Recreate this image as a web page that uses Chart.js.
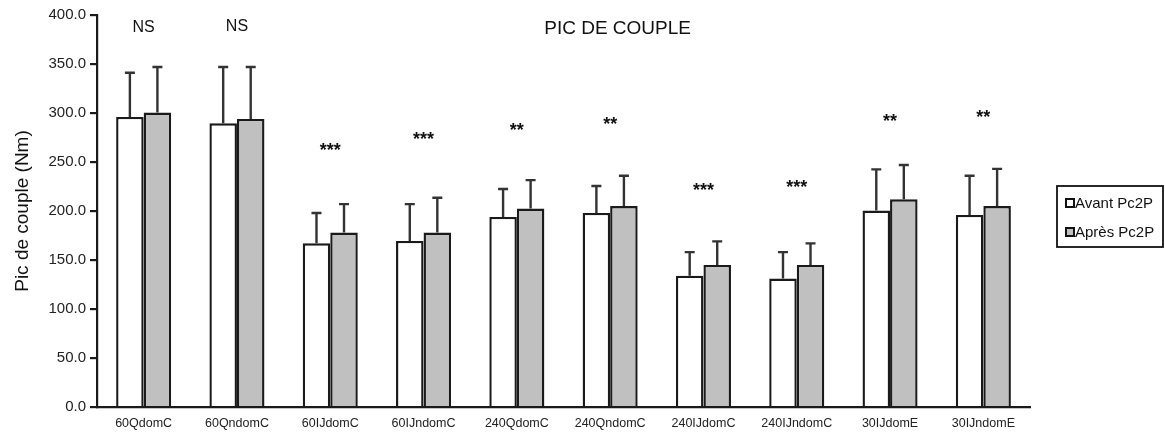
<!DOCTYPE html>
<html>
<head>
<meta charset="utf-8">
<script src="https://cdn.jsdelivr.net/npm/chart.js@4"></script>
<style>
  body { margin: 0; background: #fff; }
  #wrap { width: 1165px; height: 432px; }
</style>
</head>
<body>
<div id="wrap"><canvas id="myChart"></canvas></div>
<script>
const categories = ['60QdomC', '60QndomC', '60IJdomC', '60IJndomC', '240QdomC', '240QndomC', '240IJdomC', '240IJndomC', '30IJdomE', '30IJndomE'];
const avant = [296, 289.5, 167, 169.5, 194, 198, 134, 131, 200.5, 196];
const avantSd = [45, 57.5, 31, 37.5, 28.5, 27.5, 24, 27, 42, 40];
const apres = [300.5, 294, 178, 178, 202.5, 205, 145, 145, 212, 205];
const apresSd = [46.5, 53, 29, 35.5, 29, 31, 24, 22, 35, 38];
// significance marks and the height (Nm) they sit at
const signif = ['NS', 'NS', '***', '***', '**', '**', '***', '***', '**', '**'];
const signifAt = [387, 388, 265, 276, 286, 292, 224, 228, 295, 299];
const yTicks = [0, 50, 100, 150, 200, 250, 300, 350, 400];

const sdList = [avantSd, apresSd];
const FONT = '"Liberation Sans", Arial';

// up-only error bars with a cap
const errorBars = {
  id: 'errorBars',
  afterDatasetsDraw(chart) {
    const ctx = chart.ctx;
    const y = chart.scales.y;
    ctx.save();
    ctx.strokeStyle = '#333';
    ctx.lineWidth = 2.4;
    chart.data.datasets.forEach((ds, i) => {
      const meta = chart.getDatasetMeta(i);
      meta.data.forEach((bar, j) => {
        const top = y.getPixelForValue(ds.data[j] + sdList[i][j]);
        ctx.beginPath();
        ctx.moveTo(bar.x, bar.y);
        ctx.lineTo(bar.x, top);
        ctx.moveTo(bar.x - 5, top);
        ctx.lineTo(bar.x + 5, top);
        ctx.stroke();
      });
    });
    ctx.restore();
  }
};

// stars / NS, title, legend box
const extras = {
  id: 'extras',
  afterDraw(chart) {
    const ctx = chart.ctx;
    const x = chart.scales.x;
    const y = chart.scales.y;
    const area = chart.chartArea;
    ctx.save();
    ctx.fillStyle = '#111';
    ctx.textAlign = 'center';
    ctx.textBaseline = 'middle';
    signif.forEach((s, i) => {
      const px = x.getPixelForValue(i);
      const py = y.getPixelForValue(signifAt[i]);
      if (s === 'NS') {
        ctx.font = '16px ' + FONT;
        ctx.fillText(s, px, py);
      } else {
        ctx.font = 'bold 18px ' + FONT;
        ctx.fillText(s, px, py + 4);
      }
    });

    ctx.font = '19px ' + FONT;
    ctx.fillText('PIC DE COUPLE', area.left + (area.right - area.left) * 0.558, 29);

    // legend
    const lx = area.right + 27, ly = 186, lw = 106, lh = 61;
    ctx.lineWidth = 1.8;
    ctx.strokeStyle = '#111';
    ctx.strokeRect(lx, ly, lw, lh);
    ctx.textAlign = 'left';
    ctx.font = '15px ' + FONT;
    chart.data.datasets.forEach((ds, i) => {
      const cy = ly + 17 + i * 29;
      ctx.fillStyle = ds.backgroundColor;
      ctx.fillRect(lx + 9, cy - 4, 8, 8);
      ctx.strokeStyle = '#111';
      ctx.lineWidth = 2;
      ctx.strokeRect(lx + 9, cy - 4, 8, 8);
      ctx.fillStyle = '#111';
      ctx.fillText(ds.label, lx + 18, cy + 1);
    });
    ctx.restore();
  }
};

new Chart(document.getElementById('myChart'), {
  type: 'bar',
  data: {
    labels: categories,
    datasets: [
      { label: 'Avant Pc2P', data: avant, backgroundColor: '#ffffff', borderColor: '#1a1a1a', borderWidth: 2.4 },
      { label: 'Après Pc2P', data: apres, backgroundColor: '#c0c0c0', borderColor: '#1a1a1a', borderWidth: 2.4 }
    ]
  },
  options: {
    responsive: true,
    maintainAspectRatio: false,
    animation: false,
    layout: { padding: { top: 15, right: 135, left: 0, bottom: 0 } },
    datasets: { bar: { categoryPercentage: 0.59, barPercentage: 1.0 } },
    plugins: {
      legend: { display: false },
      title: { display: false },
      tooltip: { enabled: false }
    },
    scales: {
      x: {
        grid: { drawOnChartArea: false, drawTicks: false },
        border: { color: '#1a1a1a', width: 2.2 },
        ticks: { color: '#222', font: { size: 12.5, family: FONT }, padding: 9, maxRotation: 0, autoSkip: false },
        afterFit(scale) { scale.height = 25; }
      },
      y: {
        min: 0,
        max: 400,
        afterBuildTicks(scale) { scale.ticks = yTicks.map(v => ({ value: v })); },
        grid: { drawOnChartArea: false, drawTicks: true, tickLength: 7, color: '#1a1a1a', lineWidth: 2.2 },
        border: { color: '#1a1a1a', width: 2.2 },
        ticks: {
          color: '#222',
          font: { size: 15, family: FONT },
          padding: 4,
          callback: v => Number(v).toFixed(1)
        },
        title: {
          display: true,
          text: 'Pic de couple (Nm)',
          color: '#111',
          font: { size: 19, family: FONT },
          padding: { top: 11, bottom: 0 }
        },
        afterFit(scale) { scale.width = 97; }
      }
    }
  },
  plugins: [errorBars, extras]
});
</script>
</body>
</html>
